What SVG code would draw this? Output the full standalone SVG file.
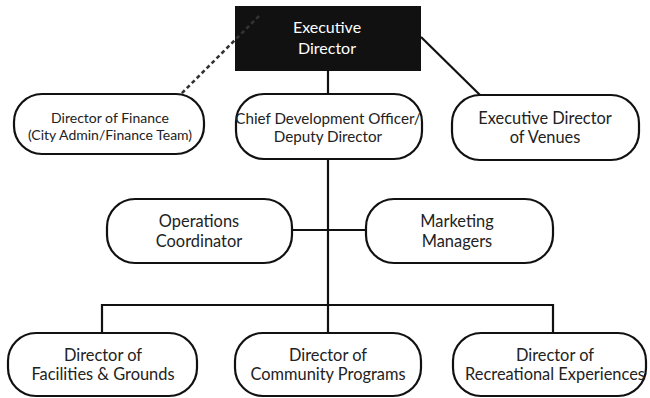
<svg xmlns="http://www.w3.org/2000/svg" width="650" height="398" viewBox="0 0 650 398">
  <style>
    .node { fill: #ffffff; stroke: #111111; stroke-width: 2.2; }
    .lbl { font-family: Lato, "Open Sans", "Liberation Sans", sans-serif; font-size: 16.4px; fill: #222222; text-anchor: middle; }
    .lbl-fin { font-size: 14px; }
    .lbl-cdo { font-size: 15.2px; }
    .head-lbl { fill: #ffffff; font-size: 16px; }
    .link { fill: none; stroke: #111111; stroke-width: 2.2; }
    .dotted { fill: none; stroke: #333333; stroke-width: 2.6; stroke-dasharray: 4 3; }
  </style>
  <rect width="650" height="398" fill="#ffffff"/>

  <!-- reporting lines -->
  <g id="connectors">
    <line class="link" x1="421" y1="37" x2="480" y2="95"/>
    <line class="link" x1="328" y1="71" x2="328" y2="333"/>
    <line class="link" x1="292" y1="230" x2="366" y2="230"/>
    <polyline class="link" points="102,333 102,305 553,305 553,333"/>
  </g>

  <g id="executive-director">
    <rect x="235" y="6" width="186" height="65" fill="#111111"/>
    <text class="lbl head-lbl" x="327" y="33">Executive</text>
    <text class="lbl head-lbl" x="327" y="54">Director</text>
  </g>

  <!-- dotted-line relationship drawn over the head box -->
  <line class="dotted" x1="259" y1="16" x2="181" y2="94"/>

  <g id="director-of-finance">
    <rect class="node" x="14" y="94" width="190" height="60" rx="28"/>
    <text class="lbl lbl-fin" x="110" y="123">Director of Finance</text>
    <text class="lbl lbl-fin" x="110" y="140">(City Admin/Finance Team)</text>
  </g>

  <g id="chief-development-officer">
    <rect class="node" x="236" y="94" width="186" height="65" rx="28"/>
    <text class="lbl lbl-cdo" x="328" y="124">Chief Development Officer/</text>
    <text class="lbl lbl-cdo" x="328" y="142">Deputy Director</text>
  </g>

  <g id="executive-director-of-venues">
    <rect class="node" x="452" y="95" width="187" height="65" rx="28"/>
    <text class="lbl" x="545" y="124">Executive Director</text>
    <text class="lbl" x="545" y="143">of Venues</text>
  </g>

  <g id="operations-coordinator">
    <rect class="node" x="107" y="199" width="185" height="64" rx="28"/>
    <text class="lbl" x="199" y="227">Operations</text>
    <text class="lbl" x="199" y="247">Coordinator</text>
  </g>

  <g id="marketing-managers">
    <rect class="node" x="366" y="199" width="187" height="64" rx="28"/>
    <text class="lbl" x="457" y="227">Marketing</text>
    <text class="lbl" x="457" y="247">Managers</text>
  </g>

  <g id="director-facilities-grounds">
    <rect class="node" x="8" y="333" width="189" height="63" rx="28"/>
    <text class="lbl" x="103" y="361">Director of</text>
    <text class="lbl" x="103" y="380">Facilities &amp; Grounds</text>
  </g>

  <g id="director-community-programs">
    <rect class="node" x="235" y="333" width="186" height="63" rx="28"/>
    <text class="lbl" x="328" y="361">Director of</text>
    <text class="lbl" x="328" y="380">Community Programs</text>
  </g>

  <g id="director-recreational-experiences">
    <rect class="node" x="453" y="333" width="193" height="63" rx="28"/>
    <text class="lbl" x="555" y="361">Director of</text>
    <text class="lbl" x="555" y="380">Recreational Experiences</text>
  </g>
</svg>
